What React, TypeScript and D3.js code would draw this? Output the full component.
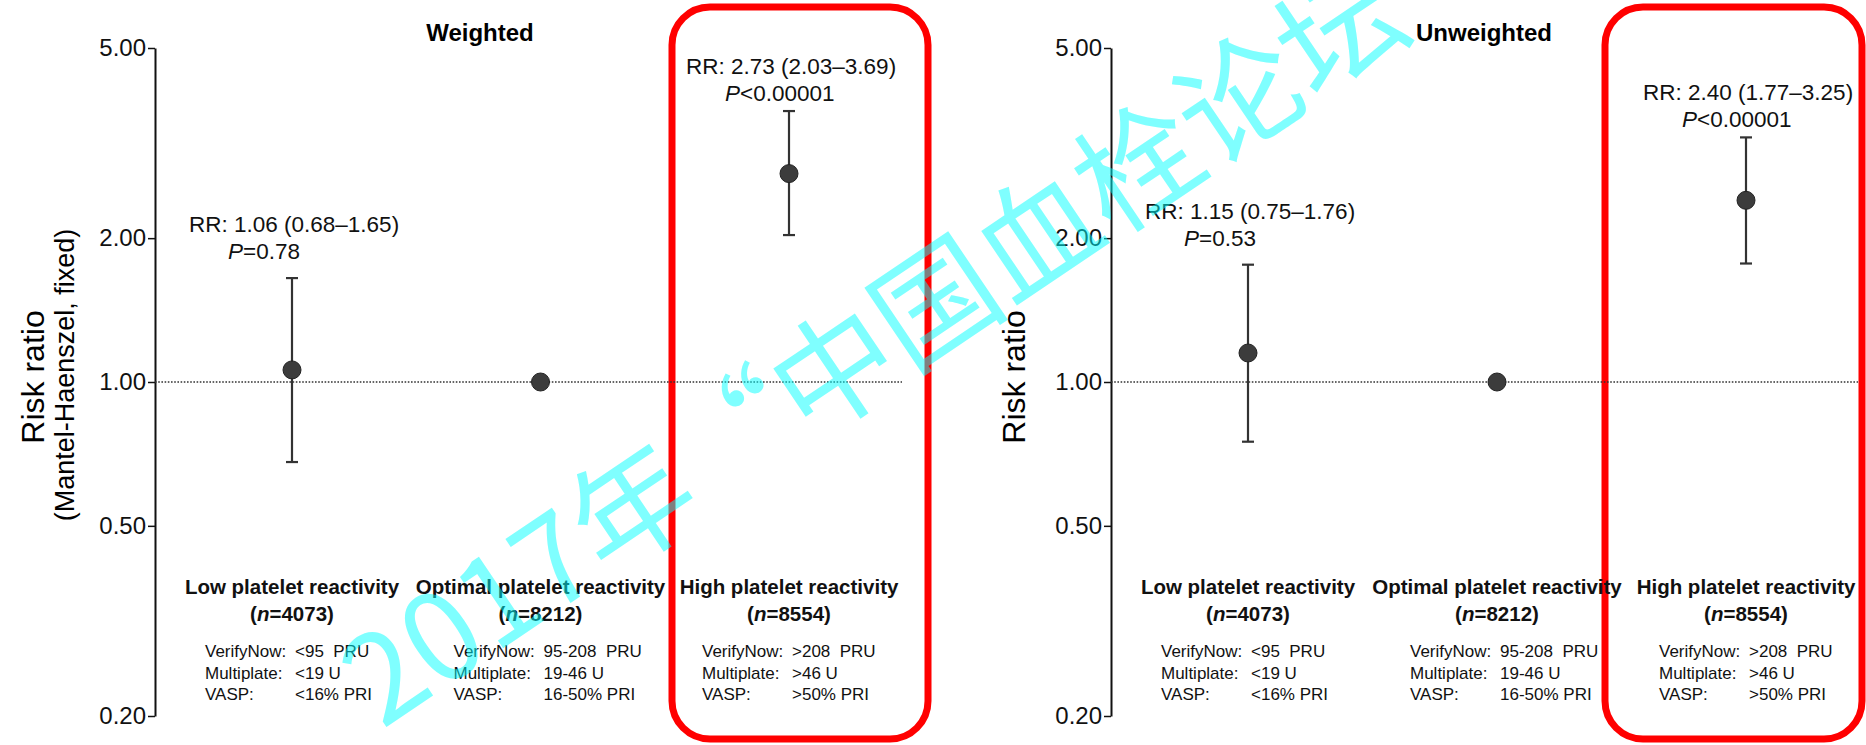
import React, { useEffect, useRef } from 'react';
import * as d3 from 'd3';

// categories and annotations
const categories = ['Low platelet reactivity', 'Optimal platelet reactivity', 'High platelet reactivity'];
const sampleSizes = ['4073', '8212', '8554'];
const assayNames = ['VerifyNow:', 'Multiplate:', 'VASP:'];
const lowCutoffs = ['<95  PRU', '<19 U', '<16% PRI'];
const optimalCutoffs = ['95-208  PRU', '19-46 U', '16-50% PRI'];
const highCutoffs = ['>208  PRU', '>46 U', '>50% PRI'];
const yTicks = [0.2, 0.5, 1, 2, 5];

// weighted panel
const weightedRR = [1.06, 1.0, 2.73];
const weightedLower = [0.68, null, 2.03];
const weightedUpper = [1.65, null, 3.69];
const weightedP = ['=0.78', null, '<0.00001'];

// unweighted panel
const unweightedRR = [1.15, 1.0, 2.4];
const unweightedLower = [0.75, null, 1.77];
const unweightedUpper = [1.76, null, 3.25];
const unweightedP = ['=0.53', null, '<0.00001'];

const FONT = '"Liberation Sans", Arial, Helvetica, sans-serif';

function App() {
    const chartRef = useRef<SVGSVGElement>(null);

    useEffect(() => {
        const svg = d3.select(chartRef.current);
        svg.selectAll('*').remove();

        const width = 1866;
        const height = 745;
        svg.attr('width', width).attr('height', height).style('background-color', 'white');

        // shared log scale for both panels
        const y = d3.scaleLog().domain([0.2, 5]).range([716, 48]);
        const cutoffs = [lowCutoffs, optimalCutoffs, highCutoffs];
        const labelGap = [19, 10, 10];

        const panels = [
            { title: 'Weighted', titleX: 480, axisX: 155, yTitleX: 44, lineEnd: 902, range: [292, 789], rr: weightedRR, lo: weightedLower, hi: weightedUpper, p: weightedP, sub: true, box: [672, 928] },
            { title: 'Unweighted', titleX: 1484, axisX: 1111, yTitleX: 1025, lineEnd: 1858, range: [1248, 1746], rr: unweightedRR, lo: unweightedLower, hi: unweightedUpper, p: unweightedP, sub: false, box: [1605, 1862] },
        ];

        panels.forEach((panel) => {
            const g = svg.append('g');
            const x = d3.scalePoint().domain(categories).range(panel.range);

            // red highlight box round the high reactivity group
            g.append('rect')
                .attr('x', panel.box[0])
                .attr('y', 7)
                .attr('width', panel.box[1] - panel.box[0])
                .attr('height', 732)
                .attr('rx', 38)
                .attr('fill', 'none')
                .attr('stroke', '#ff0000')
                .attr('stroke-width', 7);

            // title
            g.append('text')
                .attr('x', panel.titleX)
                .attr('y', 41)
                .attr('text-anchor', 'middle')
                .attr('font-family', FONT)
                .attr('font-weight', 'bold')
                .attr('font-size', 24)
                .text(panel.title);

            // y axis
            const axis = g.append('g')
                .attr('transform', 'translate(' + panel.axisX + ',0)')
                .call(d3.axisLeft(y).tickValues(yTicks).tickFormat(d3.format('.2f')).tickSize(7).tickSizeOuter(0).tickPadding(2));
            axis.select('.domain').attr('stroke', '#111').attr('stroke-width', 2);
            axis.selectAll('.tick line').attr('stroke', '#111').attr('stroke-width', 1.5);
            axis.selectAll('.tick text')
                .attr('font-family', FONT)
                .attr('font-size', 24)
                .attr('fill', '#111');

            // y axis title
            g.append('text')
                .attr('transform', 'translate(' + panel.yTitleX + ',377) rotate(-90)')
                .attr('text-anchor', 'middle')
                .attr('font-family', FONT)
                .attr('font-size', 32)
                .text('Risk ratio');
            if (panel.sub) {
                g.append('text')
                    .attr('transform', 'translate(' + (panel.yTitleX + 30) + ',375) rotate(-90)')
                    .attr('text-anchor', 'middle')
                    .attr('font-family', FONT)
                    .attr('font-size', 27)
                    .text('(Mantel-Haenszel, fixed)');
            }

            // reference line at RR = 1
            g.append('line')
                .attr('x1', panel.axisX)
                .attr('x2', panel.lineEnd)
                .attr('y1', y(1))
                .attr('y2', y(1))
                .attr('stroke', '#333')
                .attr('stroke-width', 1.6)
                .attr('stroke-dasharray', '1.6,1.6');

            categories.forEach((cat, i) => {
                const cx = x(cat) as number;
                const lo = panel.lo[i];
                const hi = panel.hi[i];

                // error bars
                if (lo !== null && hi !== null) {
                    g.append('line')
                        .attr('x1', cx).attr('x2', cx)
                        .attr('y1', y(lo)).attr('y2', y(hi))
                        .attr('stroke', '#333').attr('stroke-width', 2.2);
                    [lo, hi].forEach((v) => {
                        g.append('line')
                            .attr('x1', cx - 6).attr('x2', cx + 6)
                            .attr('y1', y(v)).attr('y2', y(v))
                            .attr('stroke', '#333').attr('stroke-width', 2.2);
                    });

                    // RR and P annotations
                    const pY = y(hi) - labelGap[i];
                    const left = cx - 103;
                    g.append('text')
                        .attr('x', left)
                        .attr('y', pY - 27)
                        .attr('font-family', FONT)
                        .attr('font-size', 22.5)
                        .attr('fill', '#111')
                        .text('RR: ' + panel.rr[i].toFixed(2) + ' (' + lo.toFixed(2) + '–' + hi.toFixed(2) + ')');
                    const pText = g.append('text')
                        .attr('x', left + 39)
                        .attr('y', pY)
                        .attr('font-family', FONT)
                        .attr('font-size', 22.5)
                        .attr('fill', '#111');
                    pText.append('tspan').attr('font-style', 'italic').text('P');
                    pText.append('tspan').text(panel.p[i]);
                }

                // point estimate
                g.append('circle')
                    .attr('cx', cx)
                    .attr('cy', y(panel.rr[i]))
                    .attr('r', 9)
                    .attr('fill', '#3c3c3c')
                    .attr('stroke', '#222')
                    .attr('stroke-width', 1);

                // category labels
                g.append('text')
                    .attr('x', cx)
                    .attr('y', 594)
                    .attr('text-anchor', 'middle')
                    .attr('font-family', FONT)
                    .attr('font-weight', 'bold')
                    .attr('font-size', 20.5)
                    .attr('fill', '#111')
                    .text(cat);
                const nText = g.append('text')
                    .attr('x', cx)
                    .attr('y', 621)
                    .attr('text-anchor', 'middle')
                    .attr('font-family', FONT)
                    .attr('font-weight', 'bold')
                    .attr('font-size', 20.5)
                    .attr('fill', '#111');
                nText.append('tspan').text('(');
                nText.append('tspan').attr('font-style', 'italic').text('n');
                nText.append('tspan').text('=' + sampleSizes[i] + ')');

                // assay cut-offs
                assayNames.forEach((name, j) => {
                    g.append('text')
                        .attr('x', cx - 87)
                        .attr('y', 657 + j * 21.5)
                        .attr('font-family', FONT)
                        .attr('font-size', 17)
                        .attr('fill', '#111')
                        .text(name);
                    g.append('text')
                        .attr('x', cx + 3)
                        .attr('y', 657 + j * 21.5)
                        .attr('font-family', FONT)
                        .attr('font-size', 17)
                        .attr('fill', '#111')
                        .style('white-space', 'pre')
                        .text(cutoffs[i][j]);
                });
            });
        });

        // watermark
        svg.append('text')
            .attr('transform', 'translate(382,730) rotate(-34)')
            .attr('font-family', '"Noto Sans CJK SC", sans-serif')
            .attr('font-size', 122)
            .attr('fill', '#00ffff')
            .attr('fill-opacity', 0.5)
            .text('2017年“中国血栓论坛');
    }, []);

    return (
        <div style={{ position: 'absolute', left: 0, top: 0 }}>
            <svg ref={chartRef}></svg>
        </div>
    );
}

export default App;
